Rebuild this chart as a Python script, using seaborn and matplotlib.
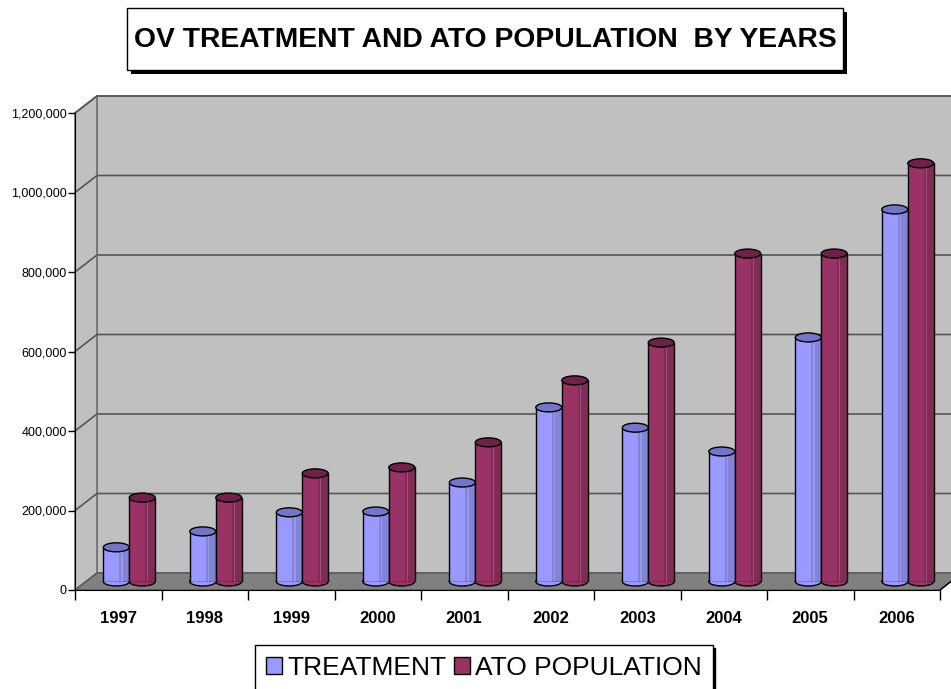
import numpy as np
import pandas as pd
import matplotlib
matplotlib.use("Agg")
import matplotlib.pyplot as plt
import matplotlib.patheffects as pe
from matplotlib.patches import Polygon, Ellipse, Rectangle, Patch
import seaborn as sns

# values
years = ["1997", "1998", "1999", "2000", "2001", "2002", "2003", "2004", "2005", "2006"]
treatment = [86000, 126000, 174000, 176000, 249000, 438000, 387000, 327000, 614000, 936000]
ato_population = [211000, 211000, 272000, 287000, 350000, 506000, 601000, 825000, 825000, 1052000]
series_names = ["TREATMENT", "ATO POPULATION"]
y_ticks = [0, 200000, 400000, 600000, 800000, 1000000, 1200000]

colors = ["#9999FF", "#993366"]
top_colors = ["#7474C8", "#6E2249"]

df = pd.DataFrame({
    "Year": years * 2,
    "Value": treatment + ato_population,
    "Series": [series_names[0]] * len(years) + [series_names[1]] * len(years),
})

sns.set_style("white")
plt.rcParams["font.family"] = ["Liberation Sans", "DejaVu Sans"]
plt.rcParams["text.color"] = "black"
plt.rcParams["xtick.color"] = "black"
plt.rcParams["ytick.color"] = "black"

FW, FH = 951, 689
fig = plt.figure(figsize=(FW / 100, FH / 100), dpi=100)

# front plane (ticks and labels) and a mid-depth plane for the bars
L, B, W, H = 75 / FW, 1 - 590 / FH, 865 / FW, 477 / FH
DX, DY = 22, 17  # depth of the 3D box in pixels
ax = fig.add_axes([L, B, W, H])
bx = fig.add_axes([L + DX / 2 / FW, B + DY / 2 / FH, W, H])
ax.set_zorder(3)
bx.set_zorder(1)
ax.patch.set_visible(False)
bx.patch.set_visible(False)

sns.barplot(data=df, x="Year", y="Value", hue="Series", palette=colors, width=0.6,
            saturation=1, edgecolor="black", linewidth=1, errorbar=None,
            legend=False, ax=bx, zorder=2)
bars = list(bx.patches)

for a in (ax, bx):
    a.set_xlim(-0.5, len(years) - 0.5)
    a.set_ylim(0, y_ticks[-1])
bx.axis("off")

# 3D box: walls, floor and gridlines
inv = fig.transFigure.inverted()


def pt(x, y, depth):
    p = ax.transData.transform((x, y)) + np.array([DX, DY]) * depth
    return inv.transform(p)


x0, x1 = -0.5, len(years) - 0.5
ytop = y_ticks[-1]
back = Polygon([pt(x0, 0, 1), pt(x1, 0, 1), pt(x1, ytop, 1), pt(x0, ytop, 1)],
               closed=True, fc="#C0C0C0", ec="#707070", lw=1.2,
               transform=fig.transFigure, clip_on=False, zorder=0.1)
side = Polygon([pt(x0, 0, 0), pt(x0, 0, 1), pt(x0, ytop, 1), pt(x0, ytop, 0)],
               closed=True, fc="#C0C0C0", ec="#707070", lw=1.2,
               transform=fig.transFigure, clip_on=False, zorder=0.1)
floor = Polygon([pt(x0, 0, 0), pt(x1, 0, 0), pt(x1, 0, 1), pt(x0, 0, 1)],
                closed=True, fc="#808080", ec="#555555", lw=1,
                transform=fig.transFigure, clip_on=False, zorder=0.2)
for p in (back, side, floor):
    bx.add_patch(p)
for v in y_ticks[1:]:
    a, b = pt(x0, v, 0), pt(x0, v, 1)
    c = pt(x1, v, 1)
    bx.plot([a[0], b[0], c[0]], [a[1], b[1], c[1]], color="#555555", lw=1.2,
            transform=fig.transFigure, clip_on=False, zorder=0.3)
a, b = pt(x1, 0, 0), pt(x1, 0, 1)
bx.plot([a[0], b[0]], [a[1], b[1]], color="black", lw=1,
        transform=fig.transFigure, clip_on=False, zorder=0.3)

# cylinder look on the seaborn bars
px_per_unit = (bx.transData.transform((0, ytop))[1] - bx.transData.transform((0, 0))[1]) / ytop
eh = 9 / px_per_unit
for i, p in enumerate(bars):
    k = 0 if i < len(years) else 1
    x, w, h = p.get_x(), p.get_width(), p.get_height()
    cx = x + w / 2
    bx.add_patch(Ellipse((cx, 0), w, eh, fc=colors[k], ec="black", lw=1, zorder=1.9, clip_on=False))
    bx.add_patch(Rectangle((x + w * 0.62, 0), w * 0.38, h, fc="black", alpha=0.14, lw=0, zorder=2.1))
    bx.add_patch(Rectangle((x + w * 0.70, 0), w * 0.04, h, fc="white", alpha=0.18, lw=0, zorder=2.2))
    bx.add_patch(Ellipse((cx, h), w, eh, fc=top_colors[k], ec="black", lw=1, zorder=2.3, clip_on=False))

# front axes: ticks and labels
sns.despine(ax=ax, top=True, right=True)
ax.spines["left"].set_color("black")
ax.spines["bottom"].set_color("black")
ax.set_yticks(y_ticks)
ax.set_yticklabels([f"{v:,.0f}" for v in y_ticks], fontsize=9)
ax.tick_params(axis="y", direction="out", length=5, width=1, pad=1, left=True)
ax.set_xticks(np.arange(-0.5, len(years), 1))
ax.set_xticklabels([])
ax.tick_params(axis="x", which="major", direction="out", length=7, width=1, bottom=True)
ax.set_xticks(np.arange(len(years)), minor=True)
ax.set_xticklabels(years, minor=True, fontsize=12, fontweight="bold")
ax.tick_params(axis="x", which="minor", length=0, pad=15)
ax.set_xlabel("")
ax.set_ylabel("")

# title box with shadow
box = Rectangle((127 / FW, 1 - 70 / FH), 716 / FW, 62 / FH, transform=fig.transFigure,
                fc="white", ec="black", lw=1, zorder=4)
box.set_path_effects([pe.withSimplePatchShadow(offset=(3, -3), shadow_rgbFace="black", alpha=1)])
fig.patches.append(box)
fig.text(485 / FW, 1 - 40 / FH, "OV TREATMENT AND ATO POPULATION  BY YEARS",
         ha="center", va="center", fontsize=20.3, fontweight="bold", zorder=5)

# legend
handles = [Patch(fc=c, ec="black", lw=1) for c in colors]
fig.legend(handles, series_names, loc="upper center", bbox_to_anchor=(484 / FW, 1 - 645 / FH),
           ncol=2, frameon=True, fancybox=False, edgecolor="black",
           shadow={"color": "black", "alpha": 1}, prop=dict(size=19),
           handlelength=0.6, handleheight=0.6, handletextpad=0.2, columnspacing=0.3,
           borderpad=0.4, borderaxespad=0)

fig.savefig("out.png", dpi=100)
